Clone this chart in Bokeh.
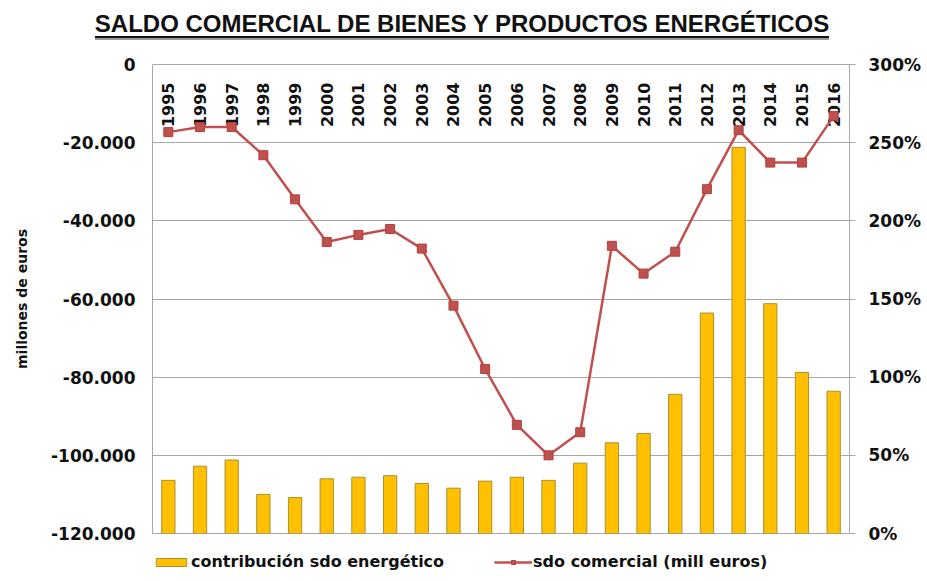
import math
from bokeh.plotting import figure
from bokeh.models import Range1d, FactorRange, LinearAxis, FixedTicker, Legend, LegendItem, ColumnDataSource, Div
from bokeh.layouts import column
from bokeh.core.properties import value
from bokeh.embed import file_html
from bokeh.resources import INLINE

title_text = "SALDO COMERCIAL DE BIENES Y PRODUCTOS ENERGÉTICOS"
years = ["1995", "1996", "1997", "1998", "1999", "2000", "2001", "2002", "2003", "2004", "2005",
         "2006", "2007", "2008", "2009", "2010", "2011", "2012", "2013", "2014", "2015", "2016"]
saldo = [-17300, -16000, -16000, -23200, -34500, -45400, -43600, -42100, -47100, -61700, -77900,
         -92200, -100000, -94100, -46400, -53500, -47900, -31900, -16800, -25100, -25100, -13200]
contrib = [34, 43, 47, 25, 23, 35, 36, 37, 32, 29, 33.5,
           36, 34, 45, 58, 64, 89, 141, 247, 147, 103, 91]
left_ticks = [0, -20000, -40000, -60000, -80000, -100000, -120000]
left_labels = ["0", "-20.000", "-40.000", "-60.000", "-80.000", "-100.000", "-120.000"]
right_ticks = [0, 50, 100, 150, 200, 250, 300]
right_labels = ["0%", "50%", "100%", "150%", "200%", "250%", "300%"]
bar_label = "contribución sdo energético"
line_label = "sdo comercial (mill euros)"
y_label = "millones de euros"

FONT = "DejaVu Sans"
GRID = "#A6A6A6"
BAR_STYLE = dict(fill_color="#FFC000", line_color="#A89030", line_width=1)
LINE_STYLE = dict(line_color="#C0504D", line_width=2.5)
MARK_STYLE = dict(marker="square", size=9, fill_color="#C0504D", line_color="#B0403D")

# ---- title ----
title_div = Div(
    text=('<div style="width:924px;text-align:center;padding-top:12px;">'
          '<span style="font-family:\'Liberation Sans\';font-weight:bold;font-size:24px;'
          'color:#111111;border-bottom:2px solid #111111;box-shadow:0 2px 0 #9A9A9A;'
          'line-height:24px;display:inline-block;">' + title_text + '</span></div>'),
    width=927, height=48, margin=0)

# ---- main chart ----
src = ColumnDataSource(dict(year=years, saldo=saldo, contrib=contrib, top=[0] * len(years)))

p = figure(width=927, height=497, x_range=FactorRange(*years, range_padding=0),
           y_range=Range1d(-120000, 0), x_axis_location=None,
           output_backend="svg", toolbar_location=None,
           min_border_left=152, min_border_right=78, min_border_top=16, min_border_bottom=12)
p.extra_y_ranges = {"pct": Range1d(0, 300)}
p.outline_line_color = GRID
p.xgrid.visible = False
p.ygrid.ticker = FixedTicker(ticks=left_ticks)
p.ygrid.grid_line_color = GRID

ya = p.yaxis[0]
ya.ticker = FixedTicker(ticks=left_ticks)
ya.major_label_overrides = dict(zip(left_ticks, left_labels))
ya.axis_line_color = None
ya.major_tick_out = 0
ya.major_tick_in = 0
ya.minor_tick_out = 0
ya.minor_tick_in = 0
ya.major_label_standoff = 17
ya.major_label_text_font = FONT
ya.major_label_text_font_style = "bold"
ya.major_label_text_font_size = "17px"
ya.major_label_text_color = "#111111"
ya.axis_label = y_label
ya.axis_label_text_font = FONT
ya.axis_label_text_font_style = "bold"
ya.axis_label_text_font_size = "14px"
ya.axis_label_text_color = "#111111"
ya.axis_label_standoff = 18

ra = LinearAxis(y_range_name="pct", ticker=FixedTicker(ticks=right_ticks))
ra.major_label_overrides = dict(zip(right_ticks, right_labels))
ra.axis_line_color = GRID
ra.major_tick_line_color = GRID
ra.major_tick_out = 6
ra.major_tick_in = 0
ra.minor_tick_out = 0
ra.minor_tick_in = 0
ra.major_label_standoff = 13
ra.major_label_text_font = FONT
ra.major_label_text_font_style = "bold"
ra.major_label_text_font_size = "17px"
ra.major_label_text_color = "#111111"
p.add_layout(ra, "right")

p.vbar(x="year", top="contrib", bottom=0, width=0.42, source=src, y_range_name="pct", **BAR_STYLE)

p.text(x="year", y="top", text="year", source=src, angle=math.pi / 2, text_align="right",
       text_baseline="middle", y_offset=18, text_font=value(FONT), text_font_style="bold",
       text_font_size="16px", text_color="#111111")

p.line(x="year", y="saldo", source=src, **LINE_STYLE)
p.scatter(x="year", y="saldo", source=src, **MARK_STYLE)

# ---- legend strip (proxy glyphs sit outside its visible range) ----
lf = figure(width=927, height=36, x_range=Range1d(0, 1), y_range=Range1d(0, 1),
            x_axis_location=None, y_axis_location=None, output_backend="svg",
            toolbar_location=None, outline_line_color=None,
            min_border_left=152, min_border_right=78, min_border_top=0, min_border_bottom=0)
lf.grid.visible = False
proxy = ColumnDataSource(dict(x=[5], y=[5], top=[6]))
lb = lf.vbar(x="x", top="top", bottom="y", width=0.1, source=proxy, **BAR_STYLE)
ll = lf.line(x="x", y="y", source=proxy, **LINE_STYLE)
lm = lf.scatter(x="x", y="y", source=proxy, **MARK_STYLE)
legend = Legend(items=[LegendItem(label=bar_label, renderers=[lb]),
                       LegendItem(label=line_label, renderers=[ll, lm])],
                orientation="horizontal", location=(0, 10), glyph_width=38, glyph_height=10,
                spacing=50, label_standoff=1, padding=0, margin=0,
                border_line_color=None, background_fill_alpha=0,
                label_text_font=FONT, label_text_font_style="bold",
                label_text_font_size="16px", label_text_color="#111111")
lf.add_layout(legend, "center")

layout = column(title_div, p, lf, spacing=0)
open("out.html", "w").write(file_html(layout, INLINE))
